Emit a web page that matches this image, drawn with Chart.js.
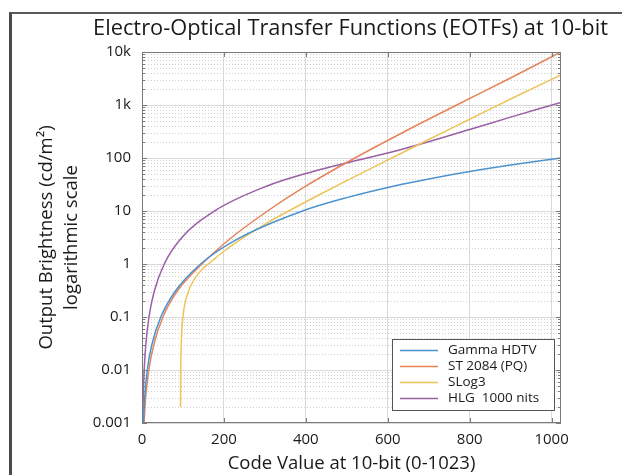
<!DOCTYPE html>
<html>
<head>
<meta charset="utf-8">
<script src="https://cdn.jsdelivr.net/npm/chart.js@4.4.1/dist/chart.umd.min.js"></script>
<style>
  html, body { margin: 0; padding: 0; background: #fff; overflow: hidden; }
  #wrap { position: relative; width: 622px; height: 475px; }
  #eotfChart { position: absolute; left: 0; top: 0; }
  #frame { position: absolute; left: 9px; top: 12px; width: 700px; height: 600px;
           border-left: 3px solid #4a4a4a; border-top: 2px solid #5a5a5a; pointer-events: none; }
</style>
</head>
<body>
<div id="wrap">
  <canvas id="eotfChart" width="622" height="475"></canvas>
  <div id="frame"></div>
</div>
<script>
const chartTitle = 'Electro-Optical Transfer Functions (EOTFs) at 10-bit';

// axis ticks
const xTickValues = [0, 200, 400, 600, 800, 1000];
const xTickLabels = ['0', '200', '400', '600', '800', '1000'];
const yTickValues = [0.001, 0.01, 0.1, 1, 10, 100, 1000, 10000];
const yTickLabels = ['0.001', '0.01', '0.1', '1', '10', '100', '1k', '10k'];

const seriesNames = ['Gamma HDTV', 'ST 2084 (PQ)', 'SLog3', 'HLG  1000 nits'];
const seriesColors = ['#4b93cf', '#e5845a', '#eec35a', '#9a5fa6'];

// code value (x) and output brightness in cd/m2 (y)
const gammaCode = [3.3, 6.4, 12.9, 23.9, 45.9, 80.3, 143.2, 234.8, 391.7, 500, 619, 700, 800, 900, 1023];
const gammaNits = [0.001, 0.003, 0.01, 0.03, 0.1, 0.3, 1, 3, 10, 17.9, 30, 40.2, 55.4, 73.5, 100];

const pqCode = [4.8, 8.9, 16.7, 28.7, 51, 85, 146.3, 215, 306.5, 401.6, 519.7, 635.8, 768.6, 891.3, 1023];
const pqNits = [0.001, 0.003, 0.01, 0.03, 0.1, 0.3, 1, 3, 10, 30, 100, 300, 1000, 3000, 10000];

const slog3Code = [94, 94.6, 95.8, 100, 113, 128, 148, 170, 200, 250, 300, 350, 420, 500, 600, 700, 800, 900, 1023];
const slog3Nits = [0.002, 0.01, 0.03, 0.1, 0.295, 0.517, 0.812, 1.125, 1.74, 3.25, 5.6, 9.26, 18, 37.4, 91.7, 223, 538, 1300, 3700];

const hlgCode = [1.7, 2.9, 5.3, 9.3, 17, 29.6, 54.3, 94.8, 177, 307, 400, 450, 511.5, 600, 700, 800, 900, 1023];
const hlgNits = [0.001, 0.003, 0.01, 0.03, 0.1, 0.3, 1, 3, 10, 30, 51, 65, 85, 124, 203, 345, 590, 1120];

const toPoints = (xs, ys) => xs.map((v, i) => ({ x: v, y: ys[i] }));
const seriesPoints = [
  toPoints(gammaCode, gammaNits),
  toPoints(pqCode, pqNits),
  toPoints(slog3Code, slog3Nits),
  toPoints(hlgCode, hlgNits),
];

const isDecade = (v) => Math.abs(Math.log10(v) - Math.round(Math.log10(v))) < 1e-6;

// title centred over the plot, minor dotted grid, inward ticks and plot box
const plotFrame = {
  id: 'plotFrame',
  beforeDatasetsDraw(chart) {
    const { ctx, chartArea: a, scales: { y } } = chart;
    ctx.save();
    ctx.strokeStyle = '#cfcfcf';
    ctx.lineWidth = 1;
    ctx.setLineDash([1, 2]);
    ctx.beginPath();
    y.ticks.forEach((t) => {
      if (isDecade(t.value)) return;
      const py = Math.round(y.getPixelForValue(t.value)) + 0.5;
      ctx.moveTo(a.left, py);
      ctx.lineTo(a.right, py);
    });
    ctx.stroke();
    ctx.restore();
  },
  afterDatasetsDraw(chart) {
    const { ctx, chartArea: a, scales: { x, y } } = chart;
    ctx.save();
    ctx.strokeStyle = '#7a7a7a';
    ctx.lineWidth = 1;
    ctx.beginPath();
    xTickValues.forEach((v) => {
      const px = Math.round(x.getPixelForValue(v)) + 0.5;
      ctx.moveTo(px, a.bottom); ctx.lineTo(px, a.bottom - 5);
      ctx.moveTo(px, a.top); ctx.lineTo(px, a.top + 5);
    });
    y.ticks.forEach((t) => {
      const py = Math.round(y.getPixelForValue(t.value)) + 0.5;
      const len = isDecade(t.value) ? 5 : 3;
      ctx.moveTo(a.left, py); ctx.lineTo(a.left + len, py);
      ctx.moveTo(a.right, py); ctx.lineTo(a.right - len, py);
    });
    ctx.stroke();
    ctx.strokeRect(Math.round(a.left) + 0.5, Math.round(a.top) + 0.5,
                   Math.round(a.right - a.left) - 1, Math.round(a.bottom - a.top) - 1);

    ctx.fillStyle = '#1a1a1a';
    ctx.font = '21.8px "Open Sans"';
    ctx.textAlign = 'center';
    ctx.textBaseline = 'middle';
    ctx.fillText(chartTitle, (a.left + a.right) / 2 - 1, 29);
    ctx.restore();
  },
};

// legend box in the lower right of the plot
const insideLegend = {
  id: 'insideLegend',
  afterDraw(chart) {
    const { ctx, chartArea: a } = chart;
    const w = 162, h = 71;
    const x0 = Math.round(a.right - 7 - w), y0 = Math.round(a.bottom - 13 - h);
    ctx.save();
    ctx.fillStyle = '#fff';
    ctx.fillRect(x0, y0, w, h);
    ctx.strokeStyle = '#555';
    ctx.lineWidth = 1;
    ctx.strokeRect(x0 + 0.5, y0 + 0.5, w, h);
    ctx.font = '13.5px "Open Sans"';
    ctx.textBaseline = 'middle';
    chart.data.datasets.forEach((ds, i) => {
      const ry = y0 + 11 + i * 16;
      ctx.strokeStyle = ds.borderColor;
      ctx.lineWidth = 1.5;
      ctx.beginPath();
      ctx.moveTo(x0 + 8, ry + 0.5);
      ctx.lineTo(x0 + 46, ry + 0.5);
      ctx.stroke();
      ctx.fillStyle = '#1a1a1a';
      ctx.fillText(ds.label, x0 + 56, ry);
    });
    ctx.restore();
  },
};

new Chart(document.getElementById('eotfChart'), {
  type: 'line',
  data: {
    datasets: seriesNames.map((name, i) => ({
      label: name,
      data: seriesPoints[i],
      borderColor: seriesColors[i],
      backgroundColor: seriesColors[i],
      borderWidth: 1.5,
      pointRadius: 0,
      fill: false,
      cubicInterpolationMode: 'monotone',
    })),
  },
  options: {
    responsive: false,
    animation: false,
    devicePixelRatio: 1,
    layout: { padding: { left: 0, right: 61, top: 52, bottom: 0 } },
    plugins: {
      legend: { display: false },
      tooltip: { enabled: false },
      title: { display: false },
    },
    scales: {
      x: {
        type: 'linear',
        min: 0,
        max: 1023,
        afterFit: (s) => { s.height = 52; },
        afterBuildTicks: (s) => { s.ticks = xTickValues.map((v) => ({ value: v })); },
        ticks: {
          autoSkip: false,
          maxRotation: 0,
          padding: 8,
          color: '#1a1a1a',
          font: { family: '"Open Sans"', size: 15 },
          callback: (v) => {
            const i = xTickValues.indexOf(v);
            return i >= 0 ? xTickLabels[i] : '';
          },
        },
        grid: { color: '#d9d9d9', drawTicks: false },
        border: { display: false },
        title: {
          display: true,
          text: 'Code Value at 10-bit (0-1023)',
          color: '#1a1a1a',
          font: { family: '"Open Sans"', size: 18.5, lineHeight: 1.2 },
          padding: { top: 0, bottom: 0 },
        },
      },
      y: {
        type: 'logarithmic',
        min: 0.001,
        max: 10000,
        afterFit: (s) => { s.width = 142; },
        afterBuildTicks: (s) => {
          const t = [];
          for (let d = -3; d < 4; d++) {
            for (let m = 1; m < 10; m++) t.push({ value: m * Math.pow(10, d) });
          }
          t.push({ value: 10000 });
          s.ticks = t;
        },
        ticks: {
          autoSkip: false,
          padding: 11,
          color: '#1a1a1a',
          font: { family: '"Open Sans"', size: 15 },
          callback: (v) => {
            const i = yTickValues.findIndex((d) => Math.abs(d - v) / d < 1e-6);
            return i >= 0 ? yTickLabels[i] : '';
          },
        },
        grid: {
          drawTicks: false,
          color: (c) => (c.tick && isDecade(c.tick.value) ? '#d9d9d9' : 'rgba(0,0,0,0)'),
        },
        border: { display: false },
        title: {
          display: true,
          text: ['Output Brightness (cd/m\u00b2)', 'logarithmic scale'],
          color: '#1a1a1a',
          font: { family: '"Open Sans"', size: 18.5, lineHeight: 1.35 },
          padding: { top: 34.5, bottom: 0 },
        },
      },
    },
  },
  plugins: [plotFrame, insideLegend],
});
</script>
</body>
</html>
